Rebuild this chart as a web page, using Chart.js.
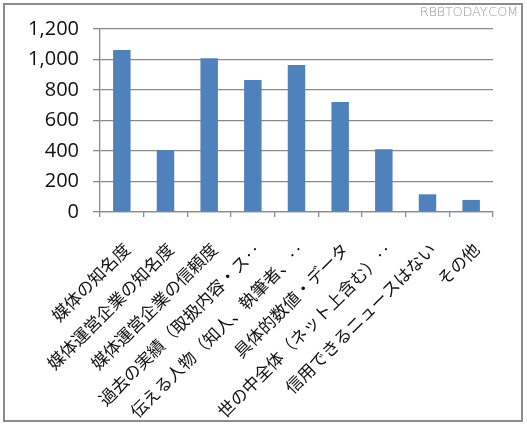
<!DOCTYPE html>
<html><head><meta charset="utf-8">
<script src="https://cdn.jsdelivr.net/npm/chart.js@4"></script>
<style>
html,body{margin:0;padding:0;background:#fff;}
#wrap{position:relative;width:527px;height:426px;}
#frame{position:absolute;left:3px;top:3px;width:520px;height:419px;border:2px solid #8c8c8c;box-sizing:border-box;pointer-events:none;}
#wm{position:absolute;right:9px;top:4px;font-family:"DejaVu Sans",sans-serif;font-size:13px;color:#9a9a9a;letter-spacing:-0.3px;font-weight:300;}
canvas{position:absolute;left:0;top:0;}
</style></head>
<body><div id="wrap"><canvas id="c" width="527" height="426"></canvas><div id="frame"></div><div id="wm">RBBTODAY.COM</div></div>
<script>
const categories = ["媒体の知名度","媒体運営企業の知名度","媒体運営企業の信頼度","過去の実績（取扱内容・ス‥","伝える人物（知人、執筆者、‥","具体的数値・データ","世の中全体（ネット上含む）‥","信用できるニュースはない","その他"];
const values = [1062, 406, 1008, 866, 964, 721, 411, 116, 79];
const yTicks = [0, 200, 400, 600, 800, 1000, 1200];

new Chart(document.getElementById('c'), {
  type: 'bar',
  data: { labels: categories, datasets: [{ data: values, backgroundColor: '#4f81bd', barPercentage: 0.4, categoryPercentage: 1.0 }] },
  options: {
    responsive: false, animation: false,
    layout: { padding: { left: 0, right: 34, top: 29, bottom: 0 } },
    plugins: { legend: { display: false }, tooltip: { enabled: false } },
    scales: {
      y: {
        min: 0, max: 1200,
        afterFit: s => { s.width = 100; },
        afterBuildTicks: s => { s.ticks = yTicks.map(v => ({ value: v })); },
        ticks: { color: '#111', font: { family: '"Open Sans", sans-serif', size: 20 }, padding: 14,
                 callback: v => v.toLocaleString('en-US') },
        grid: { color: '#8a8a8a', lineWidth: 1.3, tickLength: 7, tickColor: '#8a8a8a' },
        border: { color: '#8a8a8a', width: 1.3 }
      },
      x: {
        afterFit: s => { s.height = 214; },
        ticks: { color: '#111', minRotation: 45, maxRotation: 45, autoSkip: false, padding: 22, labelOffset: 5,
                 font: { family: '"Noto Sans CJK JP", sans-serif', size: 17 } },
        grid: { display: true, drawOnChartArea: false, offset: true, tickLength: 5, color: '#8a8a8a', lineWidth: 1.3 },
        border: { color: '#8a8a8a', width: 1.3 }
      }
    }
  }
});
</script></body></html>
